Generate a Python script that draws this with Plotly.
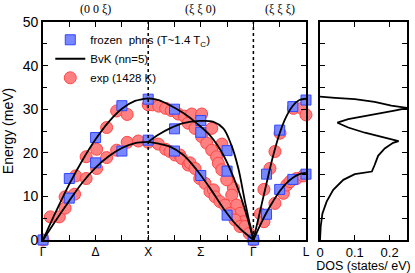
import plotly.graph_objects as go

# ---------------- data ----------------
# path coordinate: Γ=0, X=1, Γ=2, L=2.5
path_ticks = [0, 0.5, 1.0, 1.5, 2.0, 2.5]
path_labels = ["Γ", "Δ", "X", "Σ", "Γ", "L"]
path_minor = [0.25, 0.75, 1.25, 1.75, 2.25]

# frozen phonons (T~1.4 Tc)
frozen_x = [0, 0.25, 0.25, 0.5, 0.5, 0.75, 0.75, 1.0, 1.0,
            1.25, 1.25, 1.25, 1.5, 1.5, 1.5, 1.75, 1.75, 1.75, 2.0,
            2.125, 2.125, 2.25, 2.25, 2.375, 2.375, 2.5, 2.5]
frozen_e = [0, 9.6, 14.1, 17.7, 23.5, 20.4, 30.8, 22.9, 32.3,
            30.0, 25.5, 20.4, 27.4, 24.7, 14.8, 20.5, 15.8, 5.7, 0,
            5.9, 15.1, 11.6, 25.2, 13.9, 30.6, 15.1, 32.1]

# experiment (1428 K)
exp_x = [0, 0.07, 0.155, 0.21, 0.21, 0.30, 0.31, 0.41, 0.41, 0.51, 0.51, 0.605, 0.605,
         0.70, 0.70, 0.80, 0.80, 0.906, 1.0, 1.0,
         1.04, 1.10, 1.166, 1.22, 1.286, 1.343, 1.413, 1.508,
         1.38, 1.445, 1.508, 1.556, 1.604, 1.604, 1.65, 1.70, 1.667, 1.73, 1.762,
         1.81, 1.794, 1.84, 1.873, 1.904, 1.70, 1.746,
         1.096, 1.166, 1.207, 1.255, 1.30, 1.318, 1.38, 1.397, 1.445, 1.49, 1.54,
         1.587, 1.62, 1.635, 1.682, 1.73, 1.778, 1.825, 1.873, 1.92, 1.96, 2.0,
         2.066, 2.10, 2.10, 2.157, 2.205, 2.253, 2.205, 2.285, 2.317, 2.348,
         2.41, 2.474, 2.38, 2.46, 2.5]
exp_e = [0, 5.3, 5.3, 7.3, 9.9, 10.5, 14.7, 14.1, 19.1, 16.4, 20.8, 18.9, 25.8,
         20.6, 29.6, 28.8, 22.4, 22.7, 22.4, 31.0,
         31.0, 30.7, 30.2, 29.7, 28.9, 28.4, 28.9, 28.9,
         26.8, 25.6, 23.7, 22.2, 25.6, 20.6, 19.1, 22.0, 17.6, 15.7, 13.8,
         11.9, 10.3, 8.0, 6.1, 4.2, 16.1, 13.8,
         22.0, 20.8, 20.3, 19.5, 19.5, 18.7, 17.2, 17.7, 16.4, 14.1, 13.0,
         11.1, 11.5, 9.9, 8.8, 8.0, 6.1, 4.6, 3.1, 3.1, 1.5, 0,
         6.0, 4.2, 11.6, 16.4, 20.3, 24.5, 8.4, 10.7, 12.6, 13.4,
         14.1, 14.7, 30.2, 30.2, 28.7]

# Born-von Karman (nn=5) branches
gx_x = [0, 0.125, 0.25, 0.375, 0.5, 0.625, 0.75, 0.875, 1.0]
gx_la = [0, 6.6, 12.8, 18.3, 23.1, 27.1, 30.1, 31.9, 32.5]
gx_ta = [0, 4.6, 9.0, 13.2, 16.6, 19.2, 21.1, 22.2, 22.5]

xg_a_x = [1.0, 1.1, 1.207, 1.334, 1.46, 1.587, 1.714, 1.84, 1.936, 2.0]
xg_a_e = [32.5, 32.1, 30.9, 29.1, 26.8, 24.0, 19.5, 12.6, 5.7, 0]
xg_b_x = [1.0, 1.1, 1.207, 1.334, 1.49, 1.62, 1.714, 1.79, 1.857, 1.92, 2.0]
xg_b_e = [22.5, 24.2, 25.6, 26.8, 27.3, 27.1, 25.6, 21.8, 16.4, 8.8, 0]
xg_c_x = [1.0, 1.1, 1.207, 1.334, 1.46, 1.587, 1.714, 1.84, 1.92, 2.0]
xg_c_e = [22.5, 22.1, 21.4, 19.5, 16.1, 11.9, 7.3, 3.4, 1.6, 0]

gl_x = [2.0, 2.0625, 2.125, 2.1875, 2.25, 2.3125, 2.375, 2.4375, 2.5]
gl_la = [0, 6.5, 13.0, 19.3, 24.5, 28.3, 30.8, 32.1, 32.4]
gl_ta = [0, 3.3, 6.3, 8.9, 11.2, 13.0, 14.3, 15.1, 15.4]

# density of states
dos_val = [0.000, 0.002, 0.007, 0.019, 0.038, 0.067, 0.100, 0.149, 0.157, 0.167,
           0.186, 0.210, 0.226, 0.176, 0.129, 0.081, 0.050, 0.081, 0.129, 0.176,
           0.214, 0.252, 0.205, 0.157, 0.100, 0.043, 0.000]
dos_e = [0.0, 3.1, 6.1, 8.8, 11.5, 13.8, 15.1, 15.7, 17.2, 19.3,
         21.0, 22.3, 22.7, 23.6, 24.6, 25.8, 26.9, 27.7, 28.4, 29.0,
         29.7, 30.3, 30.8, 31.7, 32.3, 32.6, 32.9]

# ---------------- figure ----------------
def joined(*pairs):
    xs, ys = [], []
    for px, py in pairs:
        if xs:
            xs.append(None); ys.append(None)
        xs += px; ys += py
    return xs, ys

bvk_x, bvk_e = joined((gx_x, gx_la), (gx_x, gx_ta), (xg_a_x, xg_a_e), (xg_b_x, xg_b_e),
                      (xg_c_x, xg_c_e), (gl_x, gl_la), (gl_x, gl_ta))

fig = go.Figure()
fig.add_trace(go.Scatter(
    x=exp_x, y=exp_e, mode="markers", name="exp (1428 K)", legendrank=3,
    marker=dict(symbol="circle", size=12, color="rgb(255,128,128)",
                line=dict(color="rgb(255,70,70)", width=1)),
    cliponaxis=False))
fig.add_trace(go.Scatter(
    x=frozen_x, y=frozen_e, mode="markers", name="frozen\u00a0\u00a0phns (T~1.4 T<sub>C</sub>)",
    legendrank=1,
    marker=dict(symbol="square", size=10, color="rgb(120,135,255)",
                line=dict(color="rgb(50,70,255)", width=1)),
    cliponaxis=False))
fig.add_trace(go.Scatter(
    x=bvk_x, y=bvk_e, mode="lines", name="BvK (nn=5)", legendrank=2,
    line=dict(color="black", width=1.8, shape="spline", smoothing=1.0),
    connectgaps=False))
fig.add_trace(go.Scatter(
    x=dos_val, y=dos_e, mode="lines", showlegend=False,
    line=dict(color="black", width=1.8), xaxis="x2", yaxis="y2"))

# vertical dotted lines at X and Γ
for xv in [1.0, 2.0]:
    fig.add_shape(type="line", xref="x", yref="y", x0=xv, x1=xv, y0=0, y1=50,
                  line=dict(color="black", width=1.5, dash="dot"))

axis_common = dict(showline=True, linecolor="black", linewidth=1.6, ticks="inside",
                   tickcolor="black", tickwidth=1, ticklen=5, mirror="ticks",
                   showgrid=False, zeroline=False, automargin=False)

fig.update_layout(
    width=415, height=273,
    margin=dict(l=43, r=8, t=22, b=33),
    paper_bgcolor="white", plot_bgcolor="white",
    font=dict(family="Liberation Sans, Arial, sans-serif", color="black", size=12),
    xaxis=dict(domain=[0, 0.7225], range=[0, 2.5], tickvals=path_ticks,
               ticktext=path_labels, tickfont=dict(size=12),
               minor=dict(tickvals=path_minor, ticks="inside", ticklen=5,
                          tickcolor="black"),
               **axis_common),
    yaxis=dict(range=[0, 50], tickvals=[0, 10, 20, 30, 40, 50],
               minor=dict(tickvals=[5, 15, 25, 35, 45], ticks="inside", ticklen=4,
                          tickcolor="black"),
               tickfont=dict(size=14),
               title=dict(text="Energy (meV)", font=dict(size=14), standoff=6),
               **axis_common),
    xaxis2=dict(domain=[0.761, 1], range=[0, 0.25], tickvals=[0, 0.1, 0.2],
                ticktext=["0", "0.1", "0.2"], tickfont=dict(size=13), anchor="y2",
                title=dict(text="DOS (states/ eV)", font=dict(size=12.5), standoff=0),
                **axis_common),
    yaxis2=dict(range=[0, 50], anchor="x2", showticklabels=False,
                tickvals=[0, 10, 20, 30, 40, 50],
                minor=dict(tickvals=[5, 15, 25, 35, 45], ticks="inside", ticklen=5,
                           tickcolor="black"),
                **axis_common),
    legend=dict(x=0.02, y=0.985, xanchor="left", yanchor="top",
                bgcolor="rgba(0,0,0,0)", borderwidth=0, itemwidth=30,
                font=dict(size=11.5), tracegroupgap=0),
    showlegend=True,
)

for xa, txt in [(0.5, "(0 0 ξ)"), (1.5, "(ξ ξ 0)"), (2.25, "(ξ ξ ξ)")]:
    fig.add_annotation(x=xa, xref="x", y=1.02, yref="paper", yanchor="bottom",
                       text=txt, showarrow=False,
                       font=dict(family="Liberation Serif, Times New Roman, serif", size=12))

fig.write_html("out.html",
               config={"displayModeBar": False},
               post_script="document.body.style.margin='0';"
                           "document.body.style.overflow='hidden';")
